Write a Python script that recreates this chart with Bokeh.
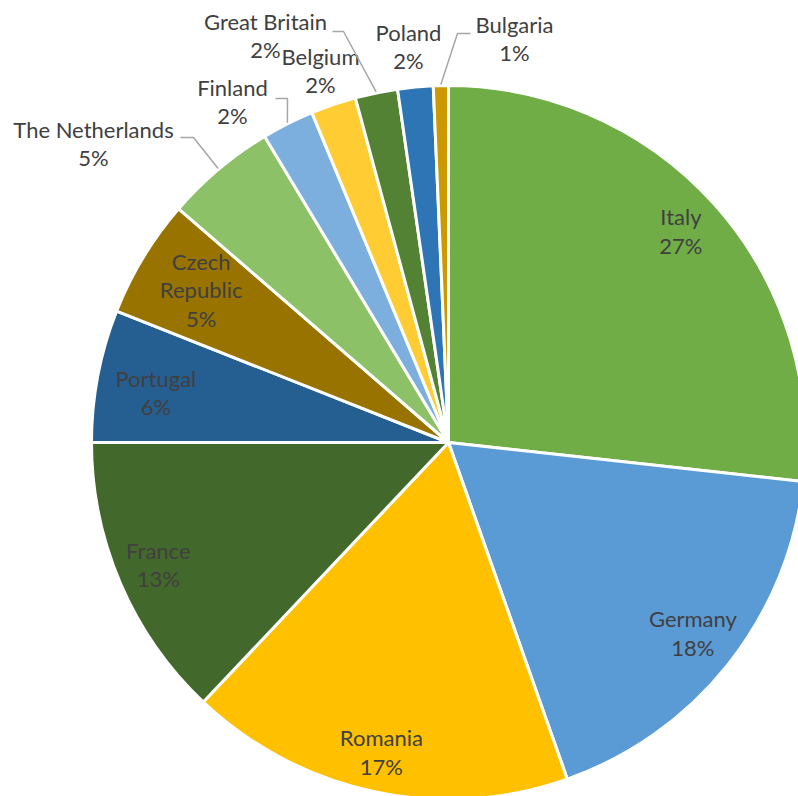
import math
from bokeh.plotting import figure
from bokeh.models import ColumnDataSource, Range1d
from bokeh.core.properties import value
from bokeh.embed import file_html
from bokeh.resources import INLINE

# ---- data ----
countries = ["Italy", "Germany", "Romania", "France", "Portugal", "Czech\nRepublic",
             "The Netherlands", "Finland", "Belgium", "Great Britain", "Poland", "Bulgaria"]
shares = [26.75, 17.85, 17.45, 12.95, 6.0, 5.36, 5.03, 2.36, 2.05, 1.92, 1.6, 0.68]
colors = ["#70AD47", "#5B9BD5", "#FFC000", "#43682B", "#255E91", "#997300",
          "#8CC168", "#7CAFDD", "#FFCD33", "#548235", "#2E75B6", "#CC9900"]

# ---- layout ----
W, H = 798, 796
CX, CY, R = 448, 442, 357  # pixel coords (y down)
def Y(py):
    return H - py

total = sum(shares)
starts, ends, mids = [], [], []
cum = 0.0
for v in shares:
    a0 = cum / total * 2 * math.pi
    cum += v
    a1 = cum / total * 2 * math.pi
    # clockwise from 12 o'clock -> bokeh angle
    starts.append(math.pi / 2 - a0)
    ends.append(math.pi / 2 - a1)
    mids.append((a0 + a1) / 2)

pct = [f"{round(v / total * 100)}%" for v in shares]
label_text = [f"{c}\n{p}" for c, p in zip(countries, pct)]

p = figure(width=W, height=H, output_backend="svg", toolbar_location=None,
           x_range=Range1d(0, W), y_range=Range1d(0, H),
           x_axis_location=None, y_axis_location=None, min_border=0,
           background_fill_color="white", border_fill_color="white")
p.outline_line_color = None
p.grid.visible = False

src = ColumnDataSource(dict(x=[CX] * len(shares), y=[Y(CY)] * len(shares),
                            start=starts, end=ends, color=colors))
p.wedge(x="x", y="y", radius=R, start_angle="start", end_angle="end",
        direction="clock", fill_color="color", line_color="white",
        line_width=3, source=src)

# inside labels (first 6 slices) placed along the mid angle, with small nudges (px)
inside_r = [312, 312, 314, 316, 304, 294]
nudge = [(0, 0), (0, 0), (-2, 5), (0, 0), (6, 10), (4, 3)]
lx, ly, lt = [], [], []
for i in range(6):
    a = mids[i]
    px = CX + inside_r[i] * math.sin(a) + nudge[i][0]
    py = CY - inside_r[i] * math.cos(a) + nudge[i][1]
    lx.append(px); ly.append(Y(py) + 3); lt.append(label_text[i])

# outside labels, manual layout (pixel centres)
outside_pos = {6: (93, 146), 7: (232, 104), 8: (320, 73), 9: (265, 38), 10: (408, 49), 11: (514, 41)}
for i, (px, py) in outside_pos.items():
    lx.append(px); ly.append(Y(py) + 3); lt.append(label_text[i])

p.text(x=lx, y=ly, text=lt, text_align="center", text_baseline="middle",
       text_font=value("Lato"), text_font_size="22px", text_color="#404040",
       text_line_height=1.07)

# leader lines: label anchor -> elbow -> slice edge midpoint
leaders = {6: [(180, 137), (193, 137)], 7: [(275, 98), (287, 98)],
           9: [(332, 31), (343, 31)], 11: [(470, 33), (457, 33)]}
xs, ys = [], []
for i, pts in leaders.items():
    a = mids[i]
    ex = CX + (R + 1) * math.sin(a)
    ey = CY - (R + 1) * math.cos(a)
    xs.append([q[0] for q in pts] + [ex])
    ys.append([Y(q[1]) for q in pts] + [Y(ey)])
p.multi_line(xs=xs, ys=ys, line_color="#A6A6A6", line_width=1.5)

open("out.html", "w").write(file_html(p, INLINE))
